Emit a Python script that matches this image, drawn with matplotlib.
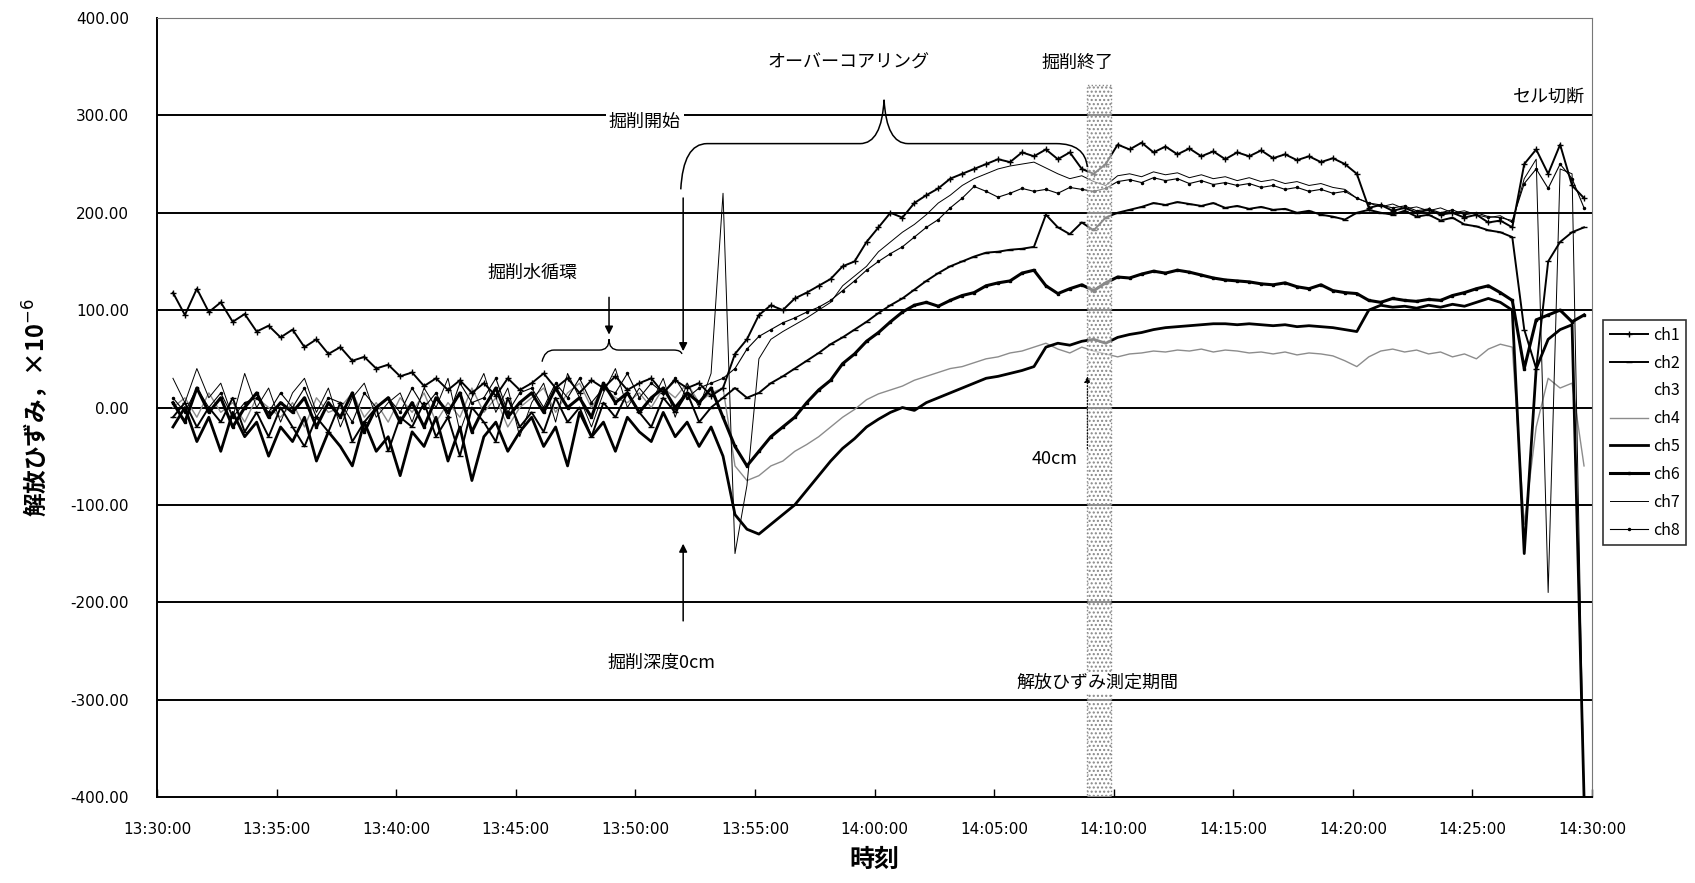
import numpy as np
import matplotlib.pyplot as plt
from matplotlib.path import Path
from matplotlib.patches import PathPatch, Rectangle

plt.rcParams['font.family'] = ['Noto Sans CJK JP', 'DejaVu Sans']

# --- sampling grid: minutes after 13:30:00, every 30 s from 13:30:40 ---
t_start = 40 / 60
t_step = 0.5

# --- strain readings (x10^-6) ---
ch1 = [118, 95, 122, 98, 108, 88, 96, 78, 84, 72,
       80, 62, 70, 55, 62, 48, 52, 40, 44, 32,
       36, 22, 30, 18, 28, 15, 25, 12, 30, 18,
       25, 35, 20, 30, 15, 28, 20, 32, 18, 25,
       30, 15, 28, 20, 25, 12, 20, 55, 70, 95,
       105, 100, 112, 118, 125, 132, 145, 150, 170, 185,
       200, 195, 210, 218, 225, 235, 240, 245, 250, 255,
       252, 262, 258, 265, 255, 262, 245, 240, 250, 270,
       265, 272, 262, 268, 260, 266, 258, 263, 255, 262,
       258, 264, 256, 260, 254, 258, 252, 256, 250, 240,
       205, 208, 202, 205, 200, 203, 198, 200, 195, 198,
       190, 192, 185, 250, 265, 240, 270, 228, 215]
ch2 = [-10, 5, -20, 0, -15, 10, -25, -5, -30, 0,
       -20, -40, -10, -25, 5, -35, -15, 0, -45, -10,
       -20, 5, -30, -10, -50, 0, -15, -35, 10, -20,
       -5, -25, 10, -15, 0, -30, 5, -10, 15, -5,
       -20, 10, -5, 15, -15, 0, 10, 20, 10, 15,
       25, 32, 40, 48, 56, 65, 72, 80, 88, 97,
       105, 112, 121, 130, 138, 145, 150, 155, 159, 160,
       162, 163, 165, 198, 185, 178, 190, 182, 195, 200,
       203, 206, 210, 208, 211, 209, 207, 210, 205, 207,
       204, 206, 203, 204, 200, 202, 198, 196, 193, 200,
       203, 200, 198, 202, 196, 198, 192, 195, 188, 186,
       182, 180, 175, 80, 40, 150, 170, 180, 185]
ch3 = [5, 0, 10, -5, 5, 0, -10, 5, 0, 5,
       0, -5, 5, 0, 10, -5, 0, 5, -5, 0,
       5, 0, -5, 10, 0, 5, -5, 0, 10, 5,
       0, 5, 10, 0, 5, 10, 0, 5, 15, 5,
       10, 5, 15, 10, 5, 15, 10, -20, -30, -25,
       -15, -10, 0, 10, 20, 30, 40, 50, 60, 70,
       80, 90, 100, 110, 120, 125, 130, 135, 140, 145,
       150, 152, 155, 158, 155, 150, 152, 150, 148, 150,
       152, 155, 153, 156, 154, 155, 153, 152, 150, 151,
       150, 149, 148, 150, 147, 146, 148, 145, 144, 140,
       145, 146, 144, 145, 143, 144, 142, 143, 141, 140,
       138, 136, 135, 60, 80, 100, 110, 100, 90]
ch4 = [0, 10, -10, 15, -5, 5, -15, 10, 0, -10,
       5, -20, 10, -5, 0, 15, -10, 5, -15, 10,
       -5, 15, -15, 5, -10, 20, -5, 10, -20, 0,
       10, 20, -5, 15, 25, 0, 20, 10, 5, 15,
       0, 20, 10, 25, 5, 15, 20, -60, -75, -70,
       -60, -55, -45, -38, -30, -20, -10, -2, 8, 14,
       18, 22, 28, 32, 36, 40, 42, 46, 50, 52,
       56, 58, 62, 66, 60, 56, 62, 58, 55, 52,
       55, 56, 58, 57, 59, 58, 60, 57, 59, 58,
       56, 57, 55, 57, 54, 56, 55, 53, 48, 42,
       52, 58, 60, 57, 59, 55, 57, 52, 55, 50,
       60, 65, 62, -120, -20, 30, 20, 25, -60]
ch5 = [-20, 0, -35, -10, -45, -5, -30, -15, -50, -20,
       -35, -10, -55, -25, -40, -60, -15, -45, -30, -70,
       -25, -40, -10, -55, -20, -75, -30, -15, -45, -25,
       -10, -40, -20, -60, -5, -30, -15, -45, -10, -25,
       -35, -5, -30, -15, -40, -20, -50, -110, -125, -130,
       -120, -110, -100, -85, -70, -55, -42, -32, -20, -12,
       -5, 0, -3, 5, 10, 15, 20, 25, 30, 32,
       35, 38, 42, 62, 66, 64, 68, 70, 66, 72,
       75, 77, 80, 82, 83, 84, 85, 86, 86, 85,
       86, 85, 84, 85, 83, 84, 83, 82, 80, 78,
       100, 105, 103, 104, 102, 105, 103, 106, 104, 108,
       112, 108, 100, -150, 40, 70, 80, 85, -400]
ch6 = [5, -15, 20, -5, 10, -20, 0, 15, -10, 5,
       -5, 10, -20, 5, -10, 15, -25, 0, 10, -15,
       5, -20, 10, -5, 15, -25, 0, 20, -10, 5,
       15, -5, 20, 0, 10, -10, 25, 5, 15, -5,
       10, 20, 0, 15, 5, 20, -10, -40, -60, -45,
       -30, -20, -10, 5, 18, 28, 45, 55, 68, 77,
       88, 98, 105, 108, 104, 110, 115, 118, 125, 128,
       130, 138, 141, 125, 117, 122, 126, 120, 128, 134,
       133, 137, 140, 138, 141, 139, 136, 133, 131, 130,
       129, 127, 126, 128, 124, 122, 126, 120, 118, 117,
       110, 108, 112, 110, 109, 111, 110, 115, 118, 122,
       125, 118, 110, 40, 90, 95, 100, 88, 95]
ch7 = [30, 5, 40, 10, 25, -10, 35, 0, 20, -15,
       15, 30, -5, 20, -20, 10, 25, -10, 5, 15,
       -15, 20, 0, 30, -25, 10, 35, -5, 20, -30,
       5, 25, -15, 35, 10, -20, 15, 40, 0, 20,
       5, 30, -10, 25, 0, 35, 220, -150, -80, 50,
       70, 78, 85, 92, 100, 108, 125, 135, 145, 160,
       170, 180, 188, 198, 210, 218, 228, 235, 240, 245,
       248, 250, 252, 246, 240, 235, 238, 232, 228, 238,
       240, 237, 242, 239, 241, 236, 239, 235, 237, 233,
       236, 232, 234, 230, 232, 228, 230, 226, 224, 215,
       210, 206, 209, 204, 206, 202, 205, 200, 202, 198,
       195, 197, 190, 235, 255, -190, 245, 240, -400]
ch8 = [10, -5, 20, 0, 15, -10, 5, 10, -5, 15,
       0, 20, -10, 10, 5, -15, 15, 0, 10, -5,
       20, 0, 15, -10, 25, 5, 10, 30, -5, 15,
       20, 0, 25, 10, 30, 5, 20, 15, 35, 10,
       25, 15, 30, 10, 20, 25, 30, 40, 60, 73,
       80, 87, 92, 98, 103, 110, 120, 130, 141, 150,
       158, 165, 175, 185, 193, 205, 215, 227, 222, 216,
       220, 225, 222, 224, 220, 226, 224, 222, 225, 232,
       234, 231, 236, 233, 235, 230, 233, 229, 231, 228,
       230, 226, 228, 224, 226, 222, 224, 220, 222, 215,
       210, 208, 205, 207, 202, 204, 200, 203, 198, 200,
       196, 195, 192, 230, 245, 225, 250, 235, 205]

x_ticks = [0, 5, 10, 15, 20, 25, 30, 35, 40, 45, 50, 55, 60]
x_labels = ['13:30:00', '13:35:00', '13:40:00', '13:45:00', '13:50:00', '13:55:00',
            '14:00:00', '14:05:00', '14:10:00', '14:15:00', '14:20:00', '14:25:00',
            '14:30:00']
y_ticks = [-400, -300, -200, -100, 0, 100, 200, 300, 400]

t = t_start + t_step * np.arange(len(ch1))

fig = plt.figure(figsize=(16.95, 8.83), dpi=100)
ax = fig.add_axes([157 / 1695, 1 - 797 / 883, 1435 / 1695, 779 / 883])

# horizontal grid
for yv in y_ticks[1:-1]:
    ax.axhline(yv, color='black', lw=1.4, zorder=1.5)

# series (ch3 is white in the original)
ax.plot(t, ch3, color='white', lw=1.0, zorder=1, label='ch3')
ax.plot(t, ch4, color='#8c8c8c', lw=1.0, zorder=2, label='ch4')
ax.plot(t, ch7, color='black', lw=0.7, zorder=2, label='ch7')
ax.plot(t, ch8, color='black', lw=0.8, marker='.', ms=3, zorder=2, label='ch8')
ax.plot(t, ch2, color='black', lw=1.4, marker='_', ms=4, zorder=3, label='ch2')
ax.plot(t, ch5, color='black', lw=2.0, zorder=3, label='ch5')
ax.plot(t, ch6, color='black', lw=2.2, marker='s', ms=2, zorder=3, label='ch6')
ax.plot(t, ch1, color='black', lw=1.4, marker='+', ms=5, zorder=3, label='ch1')

# measurement band (stippled)
band = Rectangle((38.9, -400), 1.0, 731, facecolor=(1, 1, 1, 0.55), edgecolor='#888888',
                 hatch='....', lw=1.0, ls=':', zorder=4)
ax.add_patch(band)

# braces
brace1 = Path([(21.9, 224), (22.0, 271), (23.0, 271), (29.4, 271),
               (30.3, 271), (30.4, 316), (30.5, 271), (31.4, 271),
               (37.6, 271), (38.8, 271), (38.9, 247)],
              [Path.MOVETO, Path.CURVE3, Path.CURVE3, Path.LINETO,
               Path.CURVE3, Path.CURVE3, Path.CURVE3, Path.CURVE3,
               Path.LINETO, Path.CURVE3, Path.CURVE3])
ax.add_patch(PathPatch(brace1, fill=False, lw=1.1, color='black', zorder=5))
brace2 = Path([(16.1, 47), (16.2, 59), (16.6, 59), (18.5, 59),
               (18.9, 59), (18.9, 70), (18.9, 59), (19.3, 59),
               (21.6, 59), (21.9, 59), (21.95, 55)],
              [Path.MOVETO, Path.CURVE3, Path.CURVE3, Path.LINETO,
               Path.CURVE3, Path.CURVE3, Path.CURVE3, Path.CURVE3,
               Path.LINETO, Path.CURVE3, Path.CURVE3])
ax.add_patch(PathPatch(brace2, fill=False, lw=1.0, color='black', zorder=5))

arrow = dict(arrowstyle='-|>', color='black', lw=1.1, mutation_scale=12)
ax.annotate('', xy=(18.9, 72), xytext=(18.9, 116), arrowprops=arrow, zorder=5)
ax.annotate('', xy=(22.0, 55), xytext=(22.0, 218), arrowprops=arrow, zorder=5)
ax.annotate('', xy=(22.0, -137), xytext=(22.0, -222), arrowprops=arrow, zorder=5)
ax.annotate('', xy=(38.9, 35), xytext=(38.9, -45),
            arrowprops=dict(arrowstyle='-|>', color='black', lw=0.8, ls=':',
                            mutation_scale=9), zorder=5)

fs = 13
ax.text(28.9, 354, 'オーバーコアリング', ha='center', va='center', fontsize=fs, zorder=6)
ax.text(38.5, 354, '掘削終了', ha='center', va='center', fontsize=fs, zorder=6)
ax.text(58.2, 319, 'セル切断', ha='center', va='center', fontsize=fs, zorder=6)
ax.text(20.4, 293, '掘削開始', ha='center', va='center', fontsize=fs, zorder=6,
        bbox=dict(facecolor='white', edgecolor='none', pad=2))
ax.text(15.7, 138, '掘削水循環', ha='center', va='center', fontsize=fs, zorder=6)
ax.text(21.1, -262, '掘削深度0cm', ha='center', va='center', fontsize=fs, zorder=6)
ax.text(38.5, -53, '40cm', ha='right', va='center', fontsize=fs, zorder=6)
ax.text(39.3, -283, '解放ひずみ測定期間', ha='center', va='center', fontsize=fs, zorder=6,
        bbox=dict(facecolor='white', edgecolor='none', pad=1))

ax.set_xlim(0, 60)
ax.set_ylim(-400, 400)
ax.set_xticks(x_ticks)
ax.set_xticklabels(x_labels, fontsize=11, family='DejaVu Sans')
ax.set_yticks(y_ticks)
ax.set_yticklabels([f'{v:.2f}' for v in y_ticks], fontsize=11, family='DejaVu Sans')
ax.tick_params(axis='x', direction='in', length=6, width=1, pad=18)
ax.tick_params(axis='y', length=0, pad=20)

for side in ['left', 'bottom']:
    ax.spines[side].set_linewidth(1.4)
for side in ['top', 'right']:
    ax.spines[side].set_color('#777777')
    ax.spines[side].set_linewidth(0.8)

ax.set_xlabel('時刻', fontsize=18, fontweight='bold', labelpad=8)
ax.set_ylabel('解放ひずみ，×10$^{-6}$', fontsize=17, fontweight='bold', labelpad=14)

handles, labels = ax.get_legend_handles_labels()
order = ['ch1', 'ch2', 'ch3', 'ch4', 'ch5', 'ch6', 'ch7', 'ch8']
hmap = dict(zip(labels, handles))
leg = ax.legend([hmap[k] for k in order], order, loc='upper left',
                bbox_to_anchor=(1.008, 0.612), fontsize=11.5, frameon=True,
                fancybox=False, edgecolor='black', handlelength=2.4,
                labelspacing=0.68, borderpad=0.4, handletextpad=0.3,
                borderaxespad=0)
leg.get_frame().set_linewidth(1.2)

fig.savefig('out.png', dpi=100)
